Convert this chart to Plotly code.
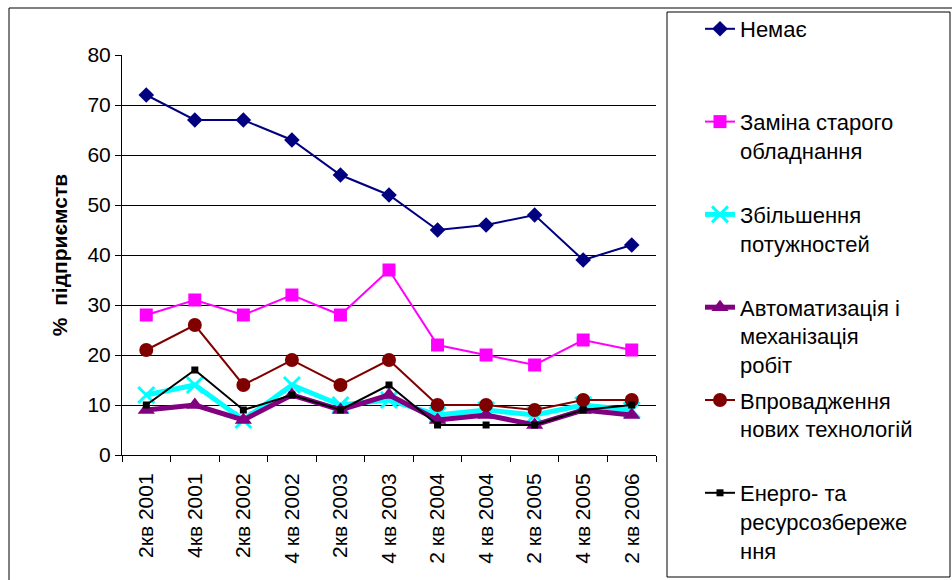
import plotly.graph_objects as go

categories = ["2кв 2001", "4кв 2001", "2кв 2002", "4 кв 2002", "2кв 2003", "4 кв 2003",
              "2 кв 2004", "4 кв 2004", "2 кв 2005", "4 кв 2005", "2 кв 2006"]

nemae = [72, 67, 67, 63, 56, 52, 45, 46, 48, 39, 42]
zamina = [28, 31, 28, 32, 28, 37, 22, 20, 18, 23, 21]
zbilshennia = [12, 14, 7, 14, 10, 11, 8, 9, 8, 10, 9]
avtomatyzatsiia = [9, 10, 7, 12, 9, 12, 7, 8, 6, 9, 8]
vprovadzhennia = [21, 26, 14, 19, 14, 19, 10, 10, 9, 11, 11]
enerho = [10, 17, 9, 12, 9, 14, 6, 6, 6, 9, 10]

names = ["Немає",
         "Заміна старого<br>обладнання",
         "Збільшення<br>потужностей",
         "Автоматизація і<br>механізація<br>робіт",
         "Впровадження<br>нових технологій",
         "Енерго- та<br>ресурсозбереже<br>ння"]

def pad(n):
    k = n.count("<br>") + 1
    return n + "<br>\u00a0" * (3 - k)

styles = [
    dict(data=nemae, color="#000080", symbol="diamond", size=12, width=2),
    dict(data=zamina, color="#FF00FF", symbol="square", size=13, width=2),
    dict(data=zbilshennia, color="#00FFFF", symbol="x-thin", size=16, width=5),
    dict(data=avtomatyzatsiia, color="#800080", symbol="triangle-up", size=15, width=5),
    dict(data=vprovadzhennia, color="#800000", symbol="circle", size=14, width=2),
    dict(data=enerho, color="#000000", symbol="square", size=7, width=2),
]

fig = go.Figure()
for i, (nm, st) in enumerate(zip(names, styles)):
    marker = dict(symbol=st["symbol"], size=st["size"], color=st["color"])
    if st["symbol"] == "x-thin":
        marker["line"] = dict(color=st["color"], width=3)
    fig.add_trace(go.Scatter(
        x=categories, y=st["data"], name=pad(nm), mode="lines+markers",
        line=dict(color=st["color"], width=st["width"]),
        marker=marker, legendgroup="g%d" % i,
    ))

fig.update_layout(
    width=952, height=580,
    margin=dict(l=122, r=296, t=55, b=125, autoexpand=False),
    paper_bgcolor="white", plot_bgcolor="white",
    font=dict(family="Liberation Sans, Arial, sans-serif", size=20, color="black"),
    showlegend=True,
    legend=dict(x=(700 - 122) / 534, xanchor="left", y=(455 - 8) / 400, yanchor="top",
                valign="top", tracegroupgap=4, bgcolor="rgba(0,0,0,0)",
                font=dict(size=22), maxheight=575),
    xaxis=dict(type="category", range=[-0.5, 10.5], tickangle=-90, showline=True,
               linecolor="black", linewidth=1, ticks="outside", tickson="boundaries",
               ticklen=6, tickcolor="black", showgrid=False, ticklabelstandoff=9,
               tickfont=dict(size=21), automargin=False),
    yaxis=dict(range=[0, 80], dtick=10, showline=True, linecolor="black", linewidth=1,
               ticks="outside", ticklen=6, tickcolor="black", showgrid=True,
               gridcolor="black", gridwidth=1, zeroline=False,
               tickfont=dict(size=21), automargin=False,
               title=dict(text="<b>%  підприємств</b>", font=dict(size=21), standoff=14)),
    shapes=[
        dict(type="rect", xref="paper", yref="paper",
             x0=(667 - 122) / 534, x1=(950 - 122) / 534,
             y0=(455 - 577) / 400, y1=(455 - 12) / 400,
             line=dict(color="black", width=1), fillcolor="rgba(0,0,0,0)"),
        dict(type="line", xref="paper", yref="paper",
             x0=(9 - 122) / 534, x1=(952 - 122) / 534,
             y0=(455 - 8) / 400, y1=(455 - 8) / 400,
             line=dict(color="black", width=1)),
        dict(type="line", xref="paper", yref="paper",
             x0=(9 - 122) / 534, x1=(9 - 122) / 534,
             y0=(455 - 8) / 400, y1=(455 - 580) / 400,
             line=dict(color="black", width=1)),
    ],
)

fig.write_html("out.html", config={"displayModeBar": False},
               post_script="document.body.style.margin='0px';")
